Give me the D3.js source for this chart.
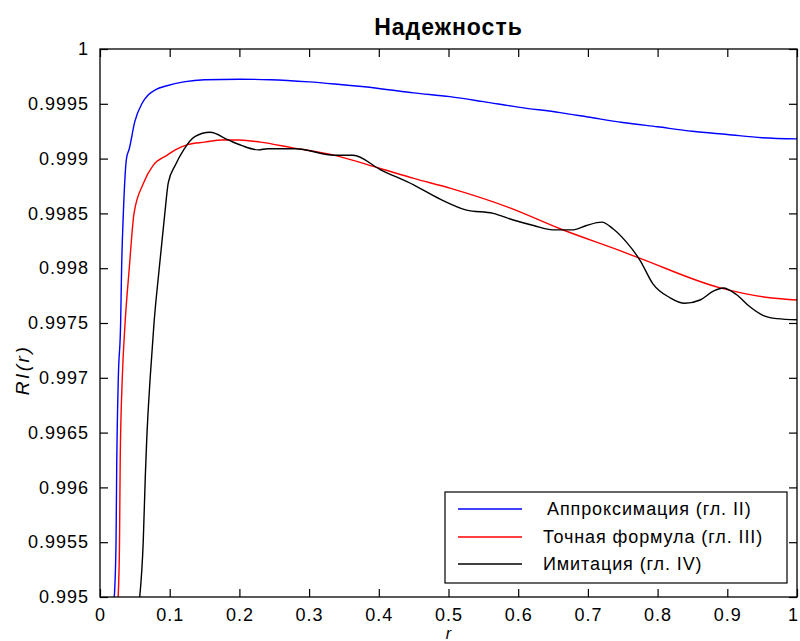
<!DOCTYPE html>
<html><head><meta charset="utf-8">
<script src="https://cdn.jsdelivr.net/npm/d3@7"></script>
<style>
body{margin:0;background:#fff;}
svg{display:block;font-family:Arial,"Liberation Sans",sans-serif;}
</style></head>
<body>
<svg id="chart" width="800" height="641"></svg>
<script>
const title = "Надежность";
const xLabel = "r";
const yLabel = "RI(r)";
const seriesNames = ["Аппроксимация (гл. II)", "Точная формула (гл. III)", "Имитация (гл. IV)"];
const seriesColors = ["#0000ff", "#ff0000", "#000000"];
const xTicks = [0,0.1,0.2,0.3,0.4,0.5,0.6,0.7,0.8,0.9,1];
const xTickLabels = ["0","0.1","0.2","0.3","0.4","0.5","0.6","0.7","0.8","0.9","1"];
const yTicks = [0.995,0.9955,0.996,0.9965,0.997,0.9975,0.998,0.9985,0.999,0.9995,1];
const yTickLabels = ["0.995","0.9955","0.996","0.9965","0.997","0.9975","0.998","0.9985","0.999","0.9995","1"];

const approxR = [0.0205,0.023,0.024,0.0263,0.0296,0.031,0.0335,0.038,0.042,0.05,0.06,0.069,0.08,0.096,0.12,0.15,0.2,0.244,0.3,0.337,0.4,0.45,0.502,0.55,0.6,0.66,0.7,0.75,0.8,0.85,0.9,0.95,1.0];
const approxV = [0.9950,0.9955,0.9962,0.9970,0.9975,0.9980,0.9985,0.9990,0.99909,0.99934,0.99950,0.99958,0.99963,0.999665,0.99970,0.99972,0.999724,0.99972,0.99970,0.99968,0.99964,0.99960,0.999565,0.99952,0.99947,0.99942,0.99938,0.99933,0.99929,0.99925,0.99922,0.99919,0.99918];

const exactR = [0.026,0.028,0.029,0.032,0.036,0.042,0.0488,0.062,0.0765,0.096,0.108,0.127,0.15,0.175,0.2,0.23,0.275,0.337,0.402,0.45,0.502,0.588,0.66,0.746,0.775,0.89,0.961,1.0];
const exactV = [0.9950,0.9955,0.99625,0.9970,0.9975,0.9980,0.9985,0.99877,0.99894,0.99903,0.99908,0.99913,0.99915,0.99917,0.99917,0.99915,0.99910,0.99903,0.99891,0.99882,0.99873,0.99855,0.99836,0.99816,0.99809,0.99782,0.99773,0.99771];

const simR = [0.057,0.062,0.065,0.067,0.072,0.0775,0.085,0.093,0.098,0.108,0.12,0.136,0.158,0.184,0.203,0.227,0.241,0.28,0.337,0.363,0.402,0.45,0.488,0.526,0.564,0.593,0.622,0.65,0.679,0.698,0.72,0.736,0.755,0.775,0.793,0.818,0.839,0.861,0.88,0.894,0.913,0.932,0.951,0.971,1.0];
const simV = [0.9950,0.9955,0.9961,0.99643,0.9970,0.9975,0.9980,0.9985,0.99878,0.99894,0.99908,0.99920,0.99924,0.99917,0.99912,0.99908,0.99909,0.99909,0.99903,0.99903,0.99890,0.99876,0.99863,0.99853,0.99850,0.99844,0.99839,0.99835,0.99835,0.99839,0.99842,0.99836,0.99824,0.99807,0.99786,0.99773,0.99768,0.99771,0.99779,0.99782,0.99776,0.99765,0.99757,0.99754,0.99753];

const svg = d3.select("#chart");
const L = 100, R = 797, T = 49, B = 597;
const x = d3.scaleLinear().domain([0,1]).range([L,R]);
const y = d3.scaleLinear().domain([0.995,1]).range([B,T]);

svg.append("defs").append("clipPath").attr("id","clip")
  .append("rect").attr("x",L).attr("y",T).attr("width",R-L).attr("height",B-T);

const series = [
  {r: approxR, v: approxV},
  {r: exactR, v: exactV},
  {r: simR, v: simV}
];
const line = d3.line().x(d=>x(d[0])).y(d=>y(d[1])).curve(d3.curveMonotoneX);
const g = svg.append("g").attr("clip-path","url(#clip)");
series.forEach((s,i)=>{
  const pts = s.r.map((r,k)=>[r,s.v[k]]);
  g.append("path").datum(pts).attr("d",line).attr("fill","none")
   .attr("stroke",seriesColors[i]).attr("stroke-width",1.4);
});

// axes (ticks inward)
const fmtX = (d,i)=>xTickLabels[i];
const fmtY = (d,i)=>yTickLabels[i];
const ax = svg.append("g").attr("transform",`translate(0,${B})`)
  .call(d3.axisBottom(x).tickValues(xTicks).tickFormat(fmtX).tickSizeInner(-8).tickSizeOuter(0).tickPadding(11));
const axT = svg.append("g").attr("transform",`translate(0,${T})`)
  .call(d3.axisTop(x).tickValues(xTicks).tickFormat("").tickSizeInner(-8).tickSizeOuter(0));
const ay = svg.append("g").attr("transform",`translate(${L},0)`)
  .call(d3.axisLeft(y).tickValues(yTicks).tickFormat(fmtY).tickSizeInner(-8).tickSizeOuter(0).tickPadding(11));
const ayR = svg.append("g").attr("transform",`translate(${R},0)`)
  .call(d3.axisRight(y).tickValues(yTicks).tickFormat("").tickSizeInner(-8).tickSizeOuter(0));
[ax,axT,ay,ayR].forEach(a=>{
  a.select(".domain").remove();
  a.selectAll("line").attr("stroke","#000").attr("stroke-width",1.2);
  a.selectAll("text").attr("fill","#000").style("font-size","18px").style("letter-spacing","1px")
   .style("font-family","Arial, 'Liberation Sans', sans-serif");
});
ax.selectAll("text").filter((d,i)=>i===xTicks.length-1).attr("dx","-4");
svg.append("rect").attr("x",L).attr("y",T).attr("width",R-L).attr("height",B-T)
  .attr("fill","none").attr("stroke","#000").attr("stroke-width",1.3);

// title
svg.append("text").attr("x",(L+R)/2).attr("y",35).attr("text-anchor","middle")
  .style("font-size","23px").style("font-weight","bold").style("letter-spacing","1px").text(title);
// y label
svg.append("text").attr("transform","translate(29,370) rotate(-90)").attr("text-anchor","middle")
  .style("font-size","19px").style("font-style","italic").style("letter-spacing","2.5px").text(yLabel);
// x label
svg.append("text").attr("x",(L+R)/2).attr("y",639).attr("text-anchor","middle")
  .style("font-size","16px").style("font-style","italic").text(xLabel);

// legend
const lg = svg.append("g");
lg.append("rect").attr("x",445).attr("y",492).attr("width",342).attr("height",91)
  .attr("fill","#fff").attr("stroke","#000").attr("stroke-width",1.2);
const rowY = [509,537,564];
seriesNames.forEach((n,i)=>{
  lg.append("line").attr("x1",458).attr("x2",522).attr("y1",rowY[i]).attr("y2",rowY[i])
    .attr("stroke",seriesColors[i]).attr("stroke-width",1.4);
  lg.append("text").attr("x",i===0?547:543).attr("y",rowY[i]+6).style("font-size","18px")
    .style("letter-spacing","0.9px").text(n);
});
</script>
</body></html>
